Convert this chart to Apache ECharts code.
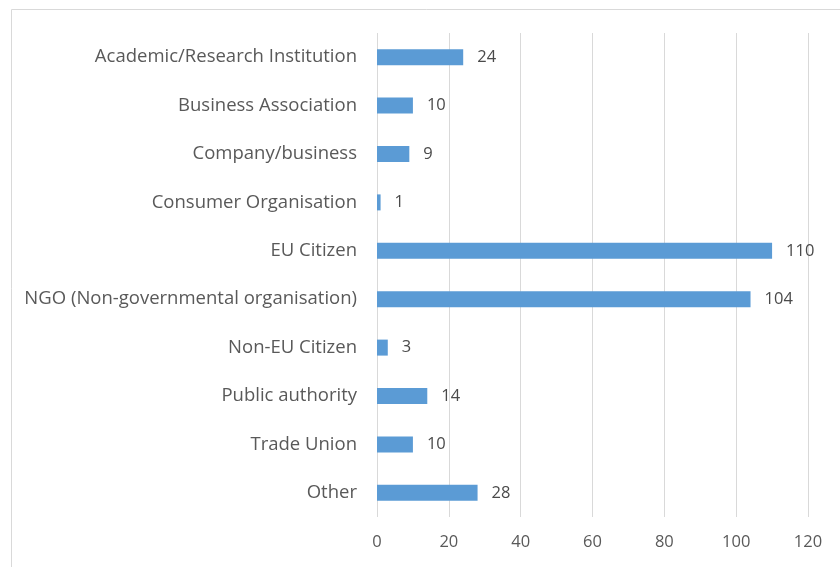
<!DOCTYPE html>
<html><head><meta charset="utf-8">
<script src="https://cdn.jsdelivr.net/npm/echarts@6/dist/echarts.min.js"></script>
<style>html,body{margin:0;padding:0;background:#fff}#c{width:840px;height:567px}</style>
</head><body><div id="c"></div>
<script>
const categories = ["Academic/Research Institution","Business Association","Company/business","Consumer Organisation","EU Citizen","NGO (Non-governmental organisation)","Non-EU Citizen","Public authority","Trade Union","Other"];
const values = [24,10,9,1,110,104,3,14,10,28];
const xTicks = [0,20,40,60,80,100,120];

const chart = echarts.init(document.getElementById('c'));
const font = "'Open Sans', sans-serif";
chart.setOption({
  animation:false,
  graphic:[{type:'rect',left:9,top:7,shape:{width:840,height:600},style:{fill:'none',stroke:'#d9d9d9',lineWidth:1},silent:true}],
  grid:{left:377,right:32,top:33,bottom:50,containLabel:false},
  xAxis:{type:'value',min:xTicks[0],max:xTicks[xTicks.length-1],interval:20,
    axisLine:{show:false},axisTick:{show:false},
    axisLabel:{color:'#595959',fontFamily:font,fontSize:16.5,margin:17},
    splitLine:{lineStyle:{color:'#d9d9d9',width:1}}},
  yAxis:{type:'category',data:categories,inverse:true,
    axisLine:{show:false},axisTick:{show:false},
    axisLabel:{color:'#595959',fontFamily:font,fontSize:18.5,margin:20}},
  series:[{type:'bar',data:values,barWidth:16,itemStyle:{color:'#5b9bd5'},
    label:{show:true,position:'right',distance:14,color:'#4a4a4a',fontFamily:font,fontSize:16.5}}]
});
</script></body></html>
